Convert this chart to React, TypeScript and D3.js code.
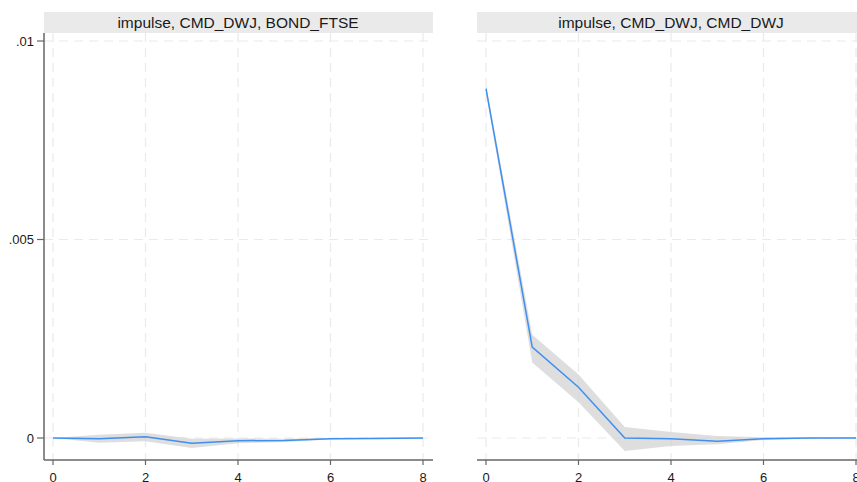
import React from "react";
import * as d3 from "d3";

const steps = [0, 1, 2, 3, 4, 5, 6, 7, 8];
const panelTitles = ["impulse, CMD_DWJ, BOND_FTSE", "impulse, CMD_DWJ, CMD_DWJ"];
const irfBond = [0, -0.00002, 0.00003, -0.00013, -0.00007, -0.00006, -0.00002, -0.00001, 0];
const lowBond = [0, -0.00012, -0.00008, -0.00025, -0.00013, -0.0001, -0.00004, -0.00002, -0.00001];
const highBond = [0, 0.00008, 0.00013, -0.00002, -0.00001, -0.00002, 0, 0.00001, 0.00001];
const irfCmd = [0.0088, 0.00229, 0.00128, 0, -0.00002, -0.00008, -0.00002, 0, 0];
const lowCmd = [0.0087, 0.0019, 0.0009, -0.00033, -0.0002, -0.00016, -0.00005, -0.00002, -0.00001];
const highCmd = [0.0089, 0.0026, 0.0016, 0.00028, 0.00015, 0.00005, 0.00002, 0.00001, 0.00001];
const yTicks = [0, 0.005, 0.01];
const yTickLabels = ["0", ".005", ".01"];
const xTicks = [0, 2, 4, 6, 8];

const W = 857, H = 482;
const panels = [
  { left: 44, right: 433, x0: 53, x1: 423, tx: 238, irf: irfBond, lo: lowBond, hi: highBond },
  { left: 477, right: 870, x0: 486, x1: 856, tx: 671, irf: irfCmd, lo: lowCmd, hi: highCmd },
];
const stripTop = 12, stripBot = 33, axisY = 460;

export default function App() {
  const y = d3.scaleLinear().domain([0, 0.01]).range([438, 41]);
  return (
    <svg width={W} height={H} style={{ position: "absolute", left: 0, top: 0, background: "#fff" }}
      fontFamily="Liberation Sans, Arial, sans-serif">
      <rect width={W} height={H} fill="#fff" />
      {panels.map((p, i) => {
        const x = d3.scaleLinear().domain([0, 8]).range([p.x0, p.x1]);
        const area = d3.area<number>().x((_, k) => x(steps[k])).y0((_, k) => y(p.lo[k])).y1((_, k) => y(p.hi[k]));
        const line = d3.line<number>().x((_, k) => x(steps[k])).y((v) => y(v));
        return (
          <g key={i}>
            <rect x={p.left} y={stripTop} width={p.right - p.left} height={stripBot - stripTop} fill="#eaeaea" />
            <text x={p.tx} y={27.5} textAnchor="middle" fontSize={15.5} fill="#1a1a1a">{panelTitles[i]}</text>
            {yTicks.map((t) => (
              <line key={"h" + t} x1={p.left} x2={p.right} y1={y(t)} y2={y(t)} stroke="#eaeaea" strokeWidth={1.2} strokeDasharray="9,6" />
            ))}
            {xTicks.map((t) => (
              <line key={"v" + t} x1={x(t)} x2={x(t)} y1={stripBot} y2={axisY} stroke="#eaeaea" strokeWidth={1.2} strokeDasharray="9,6" />
            ))}
            <path d={area(p.irf) || ""} fill="#d0d0d0" opacity={0.7} />
            <path d={line(p.irf) || ""} fill="none" stroke="#3f8ff0" strokeWidth={1.5} />
            <line x1={p.left} x2={p.right} y1={axisY} y2={axisY} stroke="#666" strokeWidth={1.5} />
            {xTicks.map((t) => (
              <g key={"xt" + t}>
                <line x1={x(t)} x2={x(t)} y1={axisY} y2={axisY + 5} stroke="#666" strokeWidth={1.2} />
                <text x={x(t)} y={481.5} textAnchor="middle" fontSize={13} fill="#1a1a1a">{t}</text>
              </g>
            ))}
          </g>
        );
      })}
      <line x1={44} x2={44} y1={stripBot} y2={axisY} stroke="#666" strokeWidth={1.5} />
      {yTicks.map((t, k) => (
        <g key={"yt" + t}>
          <line x1={37} x2={44} y1={y(t)} y2={y(t)} stroke="#666" strokeWidth={1.2} />
          <text x={34} y={y(t) + 4.5} textAnchor="end" fontSize={13} fill="#1a1a1a">{yTickLabels[k]}</text>
        </g>
      ))}
    </svg>
  );
}
